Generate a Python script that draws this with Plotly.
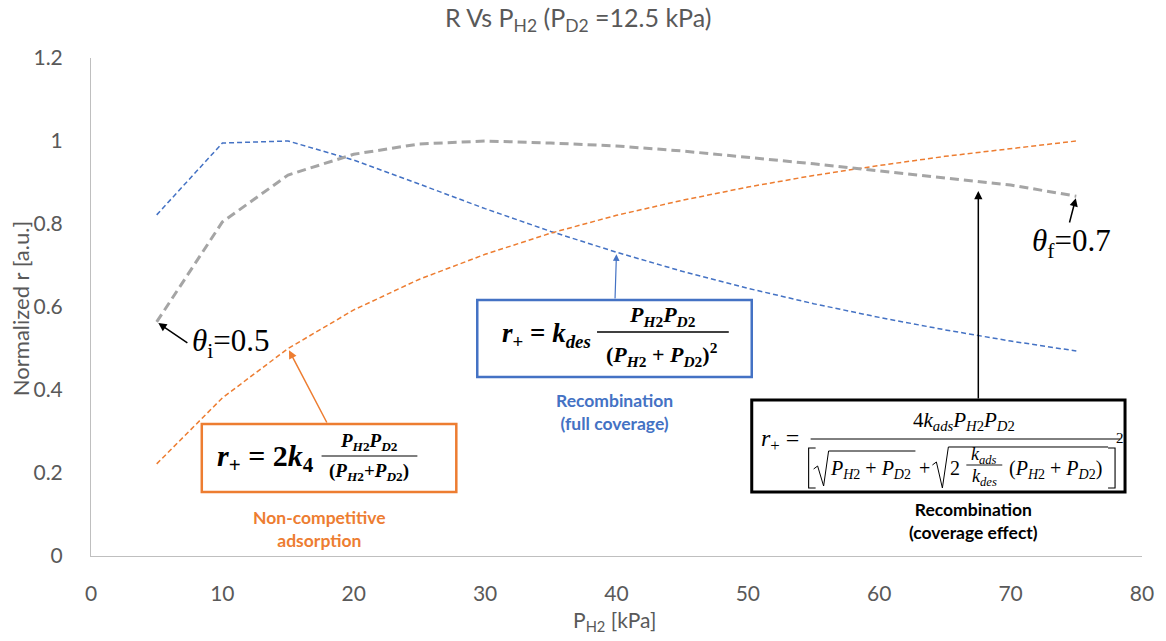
import plotly.graph_objects as go

# ---------------- data ----------------
p_h2 = [5, 10, 15, 20, 25, 30, 35, 40, 45, 50, 55, 60, 65, 70, 75]
full_coverage = [0.822, 0.995, 1.0, 0.954, 0.896, 0.837, 0.782, 0.732, 0.686, 0.645,
                 0.608, 0.575, 0.545, 0.518, 0.494]
non_competitive = [0.222, 0.381, 0.5, 0.593, 0.667, 0.727, 0.778, 0.821, 0.857, 0.889,
                   0.917, 0.941, 0.963, 0.982, 1.0]
coverage_effect = [0.564, 0.805, 0.918, 0.968, 0.993, 1.0, 0.995, 0.988, 0.976, 0.961,
                   0.945, 0.928, 0.911, 0.894, 0.867]
x_ticks = [0, 10, 20, 30, 40, 50, 60, 70, 80]
y_ticks = [0, 0.2, 0.4, 0.6, 0.8, 1.0, 1.2]
y_tick_text = ["0", "0.2", "0.4", "0.6", "0.8", "1", "1.2"]

# ---------------- layout geometry ----------------
W, H = 1166, 641
L, R, T, B = 91, 22, 58, 85
XMAX, YMAX = 80, 1.2
PW, PH = W - L - R, H - T - B

BLUE = "#4472C4"
ORANGE = "#ED7D31"
GRAY = "#A5A5A5"
TXT = "#595959"
SANS = "Lato"
SERIF = "Liberation Serif"


def XP(px):
    return (px - L) / PW


def YP(py):
    return (H - B - py) / PH


def xpix(x):
    return L + x / XMAX * PW


def ypix(y):
    return H - B - y / YMAX * PH


fig = go.Figure()
fig.add_trace(go.Scatter(x=p_h2, y=full_coverage, mode="lines",
                         line=dict(color=BLUE, width=1.5, dash="5px,3px"),
                         name="Recombination (full coverage)"))
fig.add_trace(go.Scatter(x=p_h2, y=non_competitive, mode="lines",
                         line=dict(color=ORANGE, width=1.5, dash="5px,3px"),
                         name="Non-competitive adsorption"))
fig.add_trace(go.Scatter(x=p_h2, y=coverage_effect, mode="lines",
                         line=dict(color=GRAY, width=3, dash="9px,5px"),
                         name="Recombination (coverage effect)"))

ann = []
shapes = []


def text(px, py, s, size, color="black", family=SERIF, xanchor="center",
         yanchor="middle", angle=0):
    ann.append(dict(x=XP(px), y=YP(py), xref="paper", yref="paper", text=s,
                    showarrow=False, textangle=angle,
                    font=dict(size=size, color=color, family=family),
                    xanchor=xanchor, yanchor=yanchor))


def box(x0, y0, x1, y1, color, width):
    shapes.append(dict(type="rect", xref="paper", yref="paper", x0=XP(x0), x1=XP(x1),
                       y0=YP(y0), y1=YP(y1), line=dict(color=color, width=width),
                       fillcolor="white", layer="above"))


def hline(x0, x1, py, color="black", width=1.2):
    shapes.append(dict(type="line", xref="paper", yref="paper", x0=XP(x0), x1=XP(x1),
                       y0=YP(py), y1=YP(py), line=dict(color=color, width=width),
                       layer="above"))


def poly(pts, width=1.1, color="black"):
    d = "M " + " L ".join(f"{XP(a):.5f},{YP(b):.5f}" for a, b in pts)
    shapes.append(dict(type="path", xref="paper", yref="paper", path=d,
                       line=dict(color=color, width=width), layer="above"))


def arrow(series, idx, tail_px, tail_py, color, width=1.5):
    tx, ty = p_h2[idx], series[idx]
    ann.append(dict(x=tx, y=ty, xref="x", yref="y", text="", showarrow=True,
                    ax=tail_px - xpix(tx), ay=tail_py - ypix(ty),
                    arrowhead=2, arrowsize=1.1, arrowwidth=width, arrowcolor=color,
                    standoff=2))


def arrow_px(tip_px, tip_py, tail_px, tail_py, color, width=1.5):
    ann.append(dict(x=XP(tip_px), y=YP(tip_py), xref="paper", yref="paper", text="",
                    showarrow=True, ax=tail_px - tip_px, ay=tail_py - tip_py,
                    arrowhead=2, arrowsize=1.1, arrowwidth=width, arrowcolor=color))


# --- blue box: full coverage ---
box(478, 300, 753, 377, BLUE, 2.5)
arrow(full_coverage, 7, 616, 300, BLUE, 1.2)
text(547, 335, "<b><i>r</i><sub>+</sub> = <i>k</i><sub><i>des</i></sub></b>", 27)
text(664, 316, "<b><i>P</i><sub><i>H</i>2</sub><i>P</i><sub><i>D</i>2</sub></b>", 22)
hline(598, 730, 332, "black", 1.4)
text(663, 354, "<b>(<i>P</i><sub><i>H</i>2</sub> + <i>P</i><sub><i>D</i>2</sub>)<sup>2</sup></b>", 22)
text(615, 412, "<b>Recombination<br>(full coverage)</b>", 17.5, BLUE, SANS)

# --- orange box: non-competitive adsorption ---
box(202, 424, 457, 492, ORANGE, 2.5)
arrow(non_competitive, 2, 328, 424, ORANGE, 1.5)
text(266, 458, "<b><i>r</i><sub>+</sub> = 2<i>k</i><sub>4</sub></b>", 30)
text(370, 442, "<b><i>P</i><sub><i>H</i>2</sub><i>P</i><sub><i>D</i>2</sub></b>", 19)
hline(322, 418, 456, "black", 1.2)
text(370, 472, "<b>(<i>P</i><sub><i>H</i>2</sub>+<i>P</i><sub><i>D</i>2</sub>)</b>", 19)
text(320, 529, "<b>Non-competitive<br>adsorption</b>", 17.5, ORANGE, SANS)

# --- black box: coverage effect ---
box(753, 400, 1127, 492, "black", 3)
arrow_px(980, 191, 980, 400, "black", 1.5)
text(781, 440, "<i>r</i><sub>+</sub> =", 24)
text(966, 421, "4<i>k</i><sub><i>ads</i></sub><i>P</i><sub><i>H</i>2</sub><i>P</i><sub><i>D</i>2</sub>", 21)
hline(812, 1122, 439, "black", 1.0)
# brackets
poly([(817, 448), (810, 448), (810, 488), (817, 488)], 1.1)
poly([(1110, 448), (1117, 448), (1117, 488), (1110, 488)], 1.1)
text(1122, 438, "2", 15)
# first radical
poly([(815, 469), (819, 466), (825, 486), (830, 451), (917, 451)], 1.0)
text(872, 469, "<i>P</i><sub><i>H</i>2</sub> + <i>P</i><sub><i>D</i>2</sub>", 20)
text(926, 468, "+", 20)
# second radical
poly([(934, 465), (938, 462), (944, 488), (950, 447), (1110, 447)], 1.0)
text(957, 468, "2", 20)
text(986, 455, "<i>k</i><sub><i>ads</i></sub>", 18)
hline(968, 1004, 465, "black", 0.9)
text(986, 477, "<i>k</i><sub><i>des</i></sub>", 18)
text(1057, 469, "(<i>P</i><sub><i>H</i>2</sub> + <i>P</i><sub><i>D</i>2</sub>)", 20)
text(975, 521, "<b>Recombination<br>(coverage effect)</b>", 17.5, "black", SANS)

# --- theta annotations ---
arrow(coverage_effect, 0, 189, 344, "black", 1.5)
text(231, 343, "<i>θ</i><sub>i</sub>=0.5", 31)
arrow(coverage_effect, 14, 1071, 224, "black", 1.5)
text(1073, 243, "<i>θ</i><sub>f</sub>=0.7", 31)

# --- title and axis titles ---
text(579, 19, "R Vs P<sub>H2</sub> (P<sub>D2</sub> =12.5 kPa)", 25, TXT, SANS)
text(615, 621, "P<sub>H2</sub> [kPa]", 21, TXT, SANS)
text(20, 309, "Normalized r [a.u.]", 22, TXT, SANS, angle=-90)

fig.update_layout(
    width=W, height=H,
    margin=dict(l=L, r=R, t=T, b=B),
    paper_bgcolor="white", plot_bgcolor="white",
    showlegend=False,
    annotations=ann, shapes=shapes,
    xaxis=dict(range=[0, XMAX], tickvals=x_ticks, showgrid=False, zeroline=False,
               showline=True, linecolor="#BFBFBF", linewidth=1, ticks="",
               tickfont=dict(size=21, color=TXT, family=SANS), ticklabelstandoff=19),
    yaxis=dict(range=[0, YMAX], tickvals=y_ticks, ticktext=y_tick_text, showgrid=False,
               zeroline=False, showline=True, linecolor="#BFBFBF", linewidth=1, ticks="",
               tickfont=dict(size=21, color=TXT, family=SANS), ticklabelstandoff=23),
)

fig.write_html("out.html")
